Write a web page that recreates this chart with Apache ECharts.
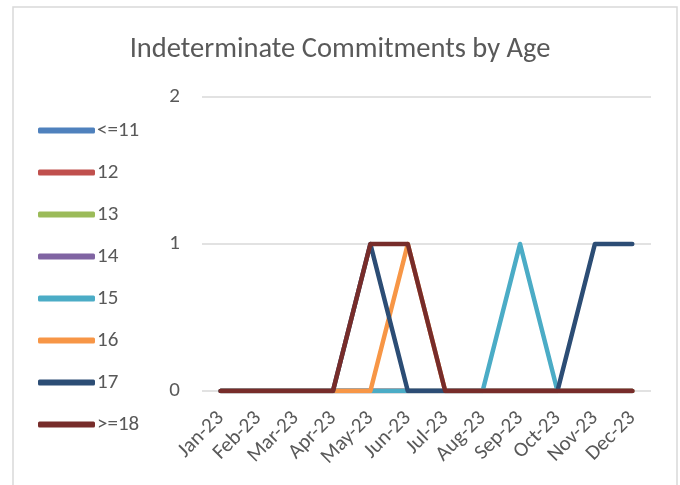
<!DOCTYPE html>
<html>
<head>
<meta charset="utf-8">
<script src="https://cdn.jsdelivr.net/npm/echarts@6/dist/echarts.min.js"></script>
<style>html,body{margin:0;padding:0;background:#fff;}#c{width:680px;height:485px;}</style>
</head>
<body>
<div id="c"></div>
<script>
var months = ['Jan-23','Feb-23','Mar-23','Apr-23','May-23','Jun-23','Jul-23','Aug-23','Sep-23','Oct-23','Nov-23','Dec-23'];
var seriesNames = ['<=11','12','13','14','15','16','17','>=18'];
var le11 = [0,0,0,0,0,0,0,0,0,0,0,0];
var age12 = [0,0,0,0,0,0,0,0,0,0,0,0];
var age13 = [0,0,0,0,0,0,0,0,0,0,0,0];
var age14 = [0,0,0,0,0,0,0,0,0,0,0,0];
var age15 = [0,0,0,0,0,0,0,0,1,0,0,0];
var age16 = [0,0,0,0,0,1,0,0,0,0,0,0];
var age17 = [0,0,0,0,1,0,0,0,0,0,1,1];
var ge18 = [0,0,0,0,1,1,0,0,0,0,0,0];
var yTicks = [0,1,2];
var colors = ['#4F81BD','#C0504D','#9BBB59','#8064A2','#4BACC6','#F79646','#2C4D75','#772C2A'];

var allData = [le11, age12, age13, age14, age15, age16, age17, ge18];
var chart = echarts.init(document.getElementById('c'), null, {renderer:'canvas'});
var txt = '#595959';
var font = 'Carlito, Calibri, Lato, "Open Sans", "Noto Sans", sans-serif';
chart.setOption({
  animation: false,
  color: colors,
  textStyle: {fontFamily: font},
  title: {
    text: 'Indeterminate Commitments by Age',
    left: 'center', top: 30,
    textStyle: {fontSize: 28.5, fontWeight: 'normal', color: txt, fontFamily: font}
  },
  graphic: [{
    type: 'rect', shape: {x: 13, y: 7, width: 664, height: 500},
    style: {fill: 'none', stroke: '#D9D9D9', lineWidth: 1.5}, silent: true
  }],
  legend: {
    orient: 'vertical', left: 38, top: 120, padding: 0,
    itemWidth: 57, itemHeight: 6, itemGap: 21,
    icon: 'roundRect',
    textStyle: {fontSize: 21, color: txt, fontFamily: font, padding: [0,0,0,-3]},
    data: seriesNames
  },
  grid: {left: 202, right: 29, top: 97, bottom: 94, containLabel: false},
  xAxis: {
    type: 'category', data: months, boundaryGap: true,
    axisLine: {show: false}, axisTick: {show: false},
    axisLabel: {rotate: 45, fontSize: 21, color: txt, fontFamily: font, margin: 24, interval: 0}
  },
  yAxis: {
    type: 'value', min: 0, max: 2, interval: 1,
    axisLabel: {fontSize: 21, color: txt, fontFamily: font, margin: 22,
      formatter: function(v){ return yTicks.indexOf(v) >= 0 ? String(v) : ''; }},
    splitLine: {lineStyle: {color: '#D9D9D9', width: 1.5}},
    axisLine: {show: false}, axisTick: {show: false}
  },
  series: seriesNames.map(function(n, i){
    return {
      name: n, type: 'line', data: allData[i], symbol: 'none',
      lineStyle: {width: 4.5, cap: 'round', join: 'round'},
      itemStyle: {color: colors[i]}
    };
  })
});
</script>
</body>
</html>
